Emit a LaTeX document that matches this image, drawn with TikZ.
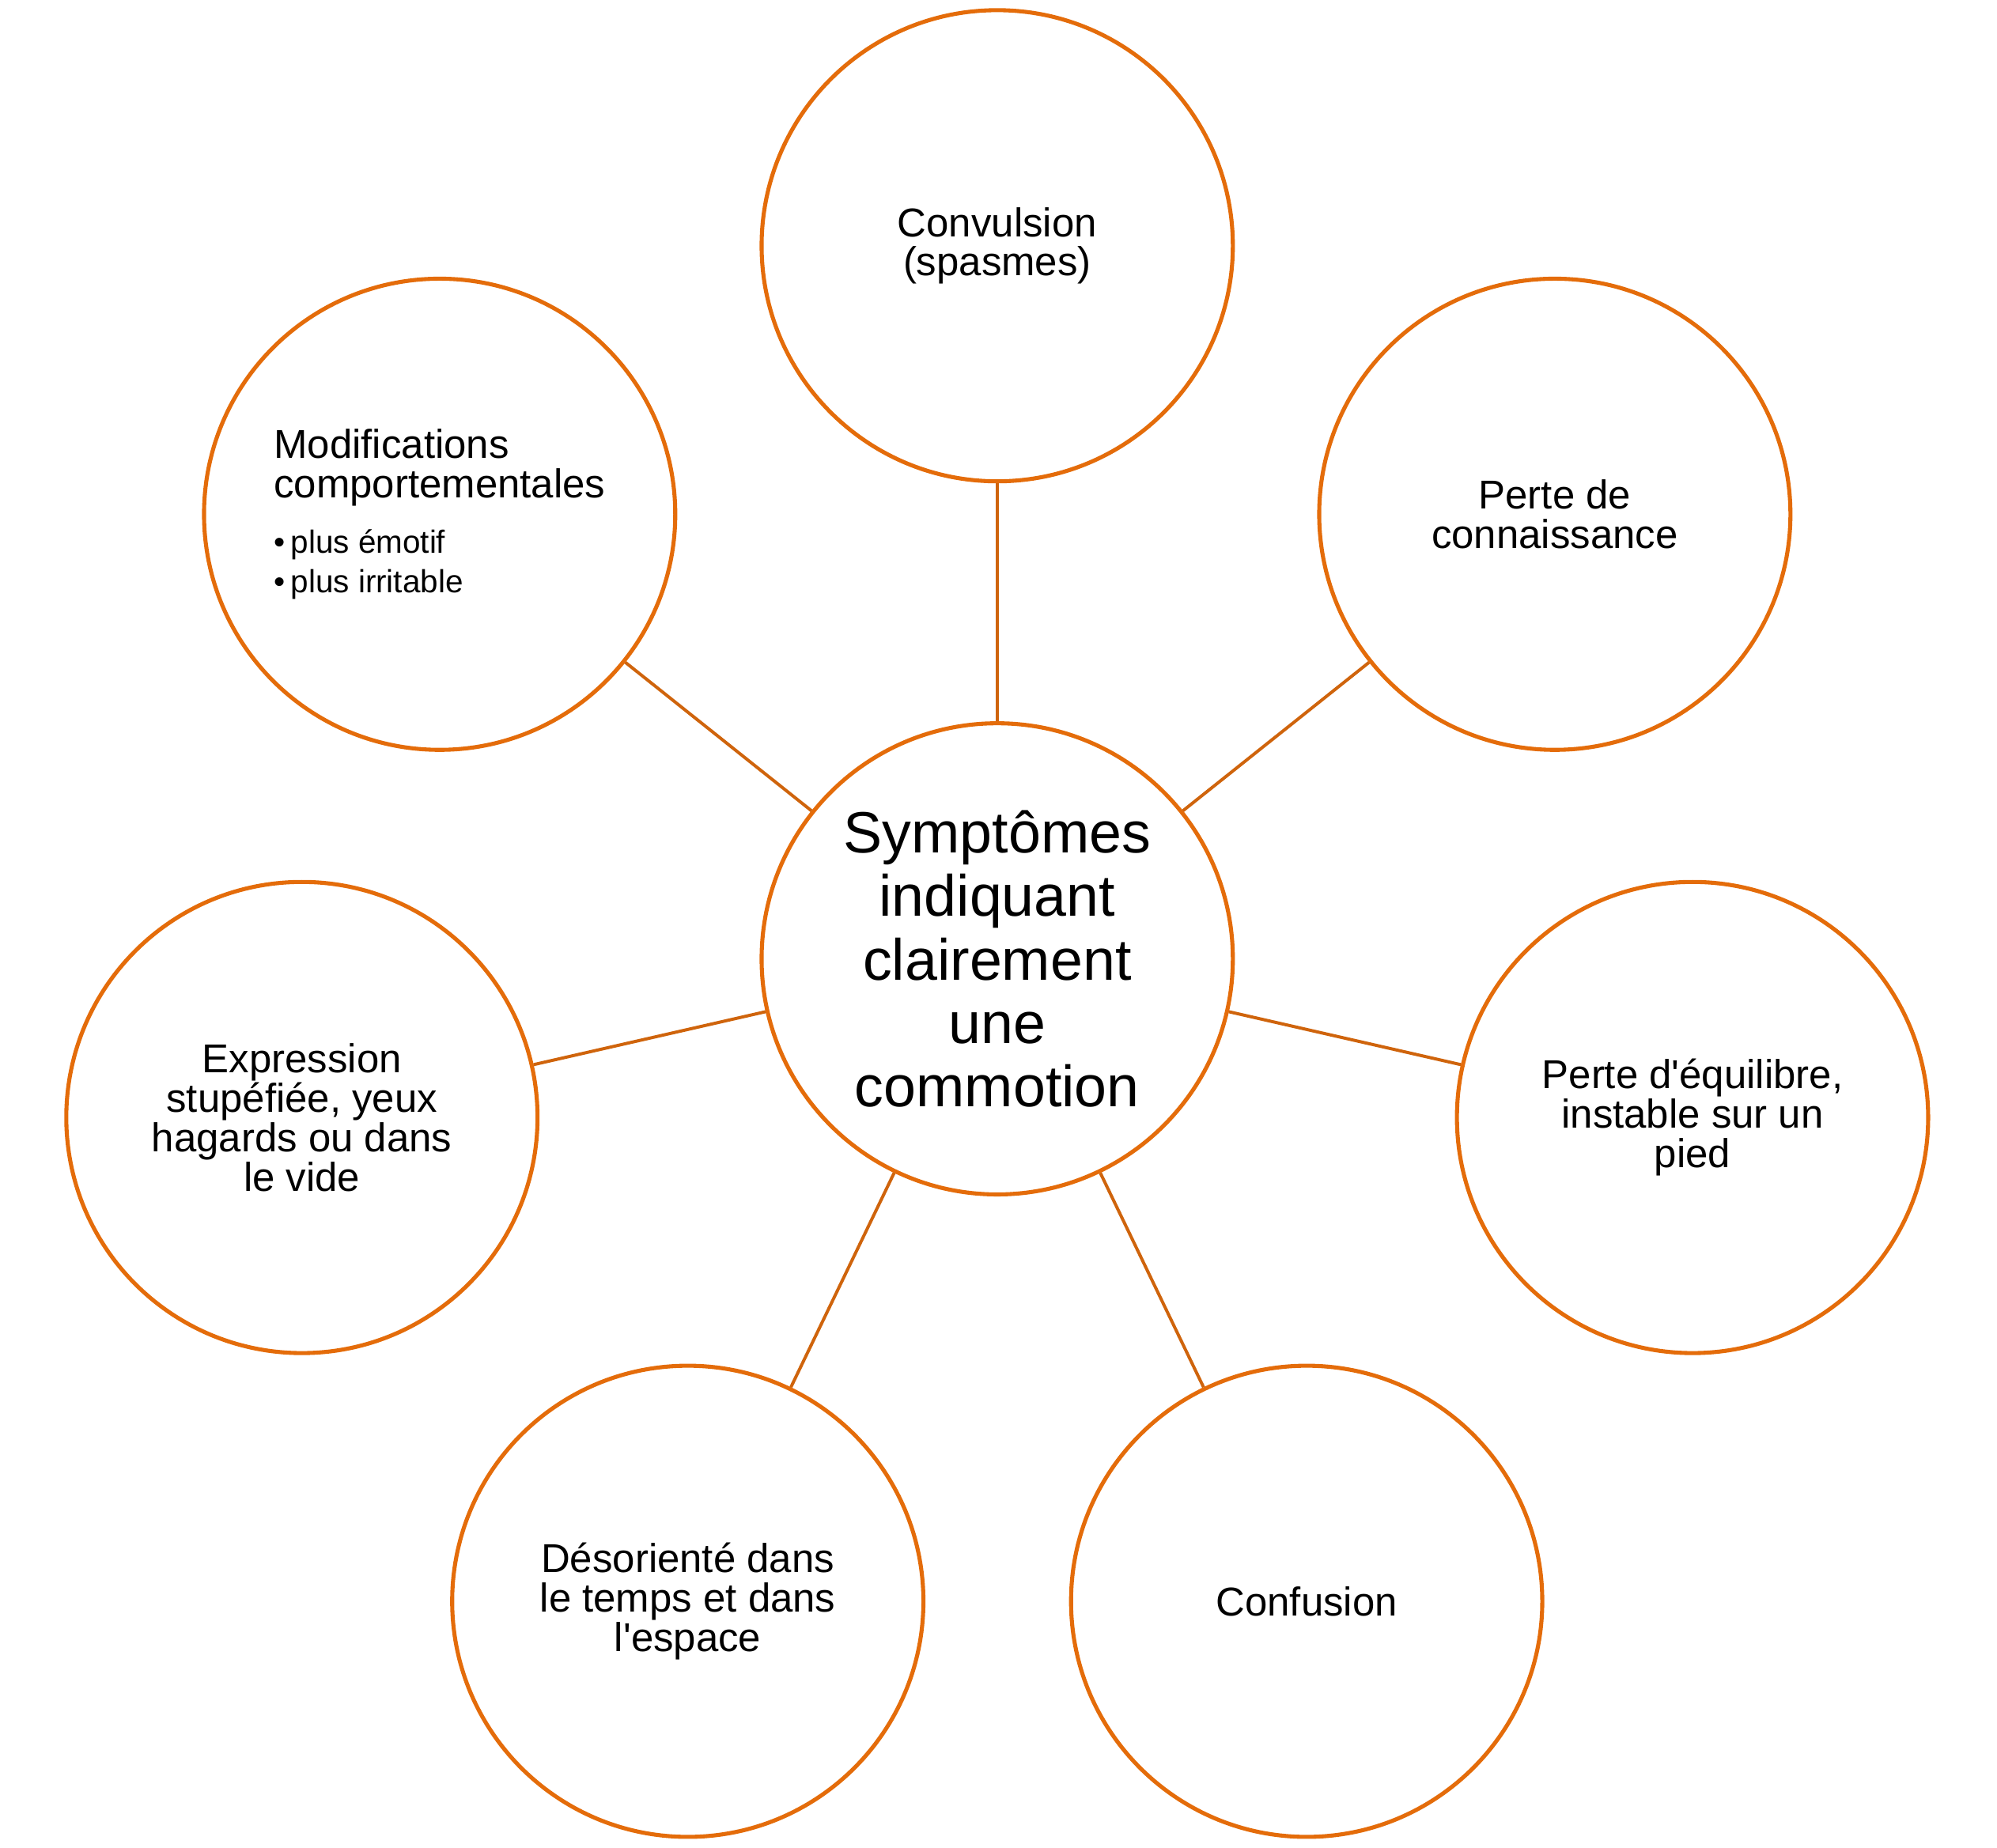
\documentclass[tikz,border=0pt]{standalone}
\usepackage{fontspec}
\setmainfont{Liberation Sans}
\definecolor{ringorange}{HTML}{E46C0A}
\definecolor{spokeorange}{HTML}{CF640C}
\begin{document}
\begin{tikzpicture}[
  symptom/.style={circle,draw=ringorange,fill=white,line width=1.8pt,minimum size=7.4cm,
    inner sep=0pt,align=center,font=\fontsize{18}{17.6}\selectfont},
  spoke/.style={draw=spokeorange,line width=1.4pt}]
\useasboundingbox (-15.66,-13.96) rectangle (15.70,15.06);
\node[symptom,font=\fontsize{26}{28.3}\selectfont] (core) at (0,0)
  {Symptômes\\indiquant\\clairement\\une\\commotion};
\node[symptom] (convulsion) at (90:11.2) {Convulsion\\(spasmes)};
\node[symptom] (connaissance) at (38.571:11.2) {Perte de\\connaissance};
\node[symptom] (equilibre) at (-12.857:11.2) {Perte d\textquotesingle équilibre,\\instable sur un\\pied};
\node[symptom] (confusion) at (-64.286:11.2) {Confusion};
\node[symptom] (desoriente) at (-115.714:11.2) {Désorienté dans\\le temps et dans\\l\textquotesingle espace};
\node[symptom] (expression) at (-167.143:11.2) {Expression\\stupéfiée, yeux\\hagards ou dans\\le vide};
\node[symptom,align=left] (comportement) at (141.429:11.2)
  {Modifications\\comportementales\\[7pt]
   {\fontsize{14.3}{17}\selectfont\textbullet\hspace{2.5pt}plus émotif}\\
   {\fontsize{14.3}{17}\selectfont\textbullet\hspace{2.5pt}plus irritable}};
\foreach \n in {convulsion,connaissance,equilibre,confusion,desoriente,expression,comportement}
  \draw[spoke] (core) -- (\n);
\end{tikzpicture}
\end{document}
